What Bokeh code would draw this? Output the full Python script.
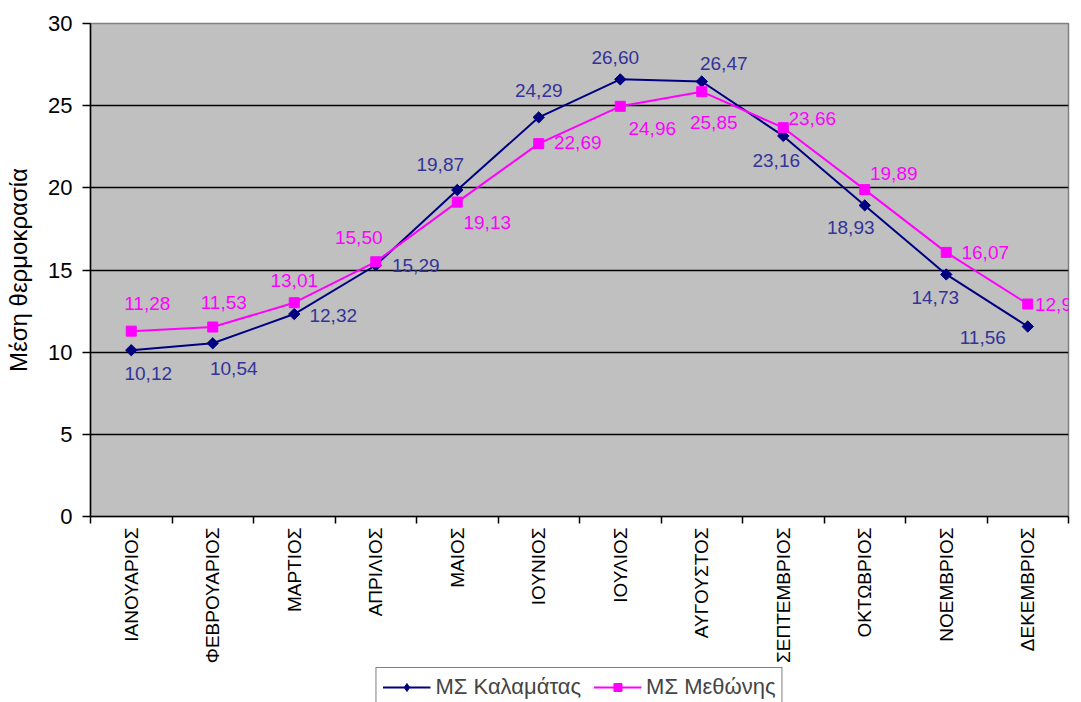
import numpy as np
from bokeh.plotting import figure
from bokeh.layouts import column
from bokeh.models import (ColumnDataSource, Range1d, FixedTicker, LabelSet, Legend, LegendItem)
from bokeh.core.properties import value
from bokeh.embed import file_html
from bokeh.resources import INLINE

months = ["ΙΑΝΟΥΑΡΙΟΣ", "ΦΕΒΡΟΥΑΡΙΟΣ", "ΜΑΡΤΙΟΣ", "ΑΠΡΙΛΙΟΣ", "ΜΑΙΟΣ", "ΙΟΥΝΙΟΣ",
          "ΙΟΥΛΙΟΣ", "ΑΥΓΟΥΣΤΟΣ", "ΣΕΠΤΕΜΒΡΙΟΣ", "ΟΚΤΩΒΡΙΟΣ", "ΝΟΕΜΒΡΙΟΣ", "ΔΕΚΕΜΒΡΙΟΣ"]
kalamata = [10.12, 10.54, 12.32, 15.29, 19.87, 24.29, 26.60, 26.47, 23.16, 18.93, 14.73, 11.56]
methoni = [11.28, 11.53, 13.01, 15.50, 19.13, 22.69, 24.96, 25.85, 23.66, 19.89, 16.07, 12.93]
y_ticks = [0, 5, 10, 15, 20, 25, 30]
series_names = ["ΜΣ Καλαμάτας", "ΜΣ Μεθώνης"]

# label nudges in screen pixels (dx right, dy up)
kal_dx = [17, 21, 39, 40, -17, 0, -5, 22, -7, -14, -11, -45]
kal_dy = [-23, -25, -1, 0, 25, 27, 22, 18, -25, -22, -23, -11]
met_dx = [16, 11, 0, -17, 30, 39, 32, 12, 29, 29, 39, 31]
met_dy = [28, 25, 22, 24, -20, 1, -22, -31, 9, 16, 0, 0]

FONT = "Liberation Sans"
NAVY = "#000080"
MAG = "#FF00FF"
xpos = np.arange(len(months)) + 0.5

def fmt(v):
    return f"{v:.2f}".replace(".", ",")

src_k = ColumnDataSource(dict(x=xpos, y=kalamata, t=[fmt(v) for v in kalamata], dx=kal_dx, dy=kal_dy))
src_m = ColumnDataSource(dict(x=xpos, y=methoni, t=[fmt(v) for v in methoni], dx=met_dx, dy=met_dy))

p = figure(width=1081, height=666, output_backend="svg", toolbar_location=None,
           x_range=Range1d(0, len(months)), y_range=Range1d(0, 30),
           min_border_left=90, min_border_right=13, min_border_top=23, min_border_bottom=150)

p.background_fill_color = "#C0C0C0"
p.border_fill_color = "white"
p.outline_line_color = "#808080"
p.outline_line_width = 1.5

# y axis
p.yaxis.ticker = FixedTicker(ticks=y_ticks)
p.yaxis.axis_line_color = "black"
p.yaxis.axis_line_width = 1.5
p.yaxis.major_tick_out = 8
p.yaxis.major_tick_in = 0
p.yaxis.major_tick_line_width = 1.5
p.yaxis.minor_tick_line_color = None
p.yaxis.major_label_text_font = FONT
p.yaxis.major_label_text_font_size = "22px"
p.yaxis.major_label_text_color = "black"
p.yaxis.major_label_standoff = 10
p.yaxis.axis_label = "Μέση θερμοκρασία"
p.yaxis.axis_label_text_font = FONT
p.yaxis.axis_label_text_font_size = "24px"
p.yaxis.axis_label_text_font_style = "normal"
p.yaxis.axis_label_text_color = "black"
p.yaxis.axis_label_standoff = 13

# x axis
p.xaxis.ticker = FixedTicker(ticks=list(xpos), minor_ticks=list(range(len(months) + 1)))
p.xaxis.major_label_overrides = {float(x): m for x, m in zip(xpos, months)}
p.xaxis.major_label_orientation = np.pi / 2
p.xaxis.axis_line_color = "black"
p.xaxis.axis_line_width = 1.5
p.xaxis.major_tick_out = 0
p.xaxis.major_tick_in = 0
p.xaxis.minor_tick_out = 7
p.xaxis.minor_tick_in = 0
p.xaxis.minor_tick_line_color = "black"
p.xaxis.minor_tick_line_width = 1.5
p.xaxis.major_label_text_font = FONT
p.xaxis.major_label_text_font_size = "19px"
p.xaxis.major_label_text_color = "black"
p.xaxis.major_label_standoff = 4

p.xgrid.grid_line_color = None
p.ygrid.ticker = FixedTicker(ticks=[5, 10, 15, 20, 25])
p.ygrid.grid_line_color = "black"
p.ygrid.grid_line_width = 1.5

def draw(fig, src, col, marker, size, angle):
    ln = fig.line("x", "y", source=src, line_color=col, line_width=2)
    sc = fig.scatter("x", "y", source=src, marker=marker, angle=angle, size=size,
                     fill_color=col, line_color=col)
    return ln, sc

draw(p, src_k, NAVY, "square", 8, np.pi / 4)
draw(p, src_m, MAG, "square", 10, 0)

for src, col in ((src_k, "#333399"), (src_m, MAG)):
    ls = LabelSet(x="x", y="y", text="t", source=src, x_offset="dx", y_offset="dy",
                  text_align="center", text_baseline="middle", text_color=col,
                  text_font=value(FONT), text_font_size=value("19px"))
    p.add_layout(ls)

# legend strip below the chart (same series, ranges set so only the legend shows)
pl = figure(width=1081, height=36, output_backend="svg", toolbar_location=None,
            x_range=Range1d(100, 101), y_range=Range1d(100, 101),
            x_axis_location=None, y_axis_location=None,
            min_border_left=0, min_border_right=0, min_border_top=0, min_border_bottom=0)
pl.outline_line_color = None
pl.grid.grid_line_color = None
rk = draw(pl, src_k, NAVY, "diamond", 14, 0)
rm = draw(pl, src_m, MAG, "square", 10, 0)

legend = Legend(items=[LegendItem(label=series_names[0], renderers=list(rk)),
                       LegendItem(label=series_names[1], renderers=list(rm))],
                orientation="horizontal", location="top_center",
                glyph_width=48, glyph_height=20, label_standoff=5, spacing=12,
                padding=6, margin=1, border_line_color="black", border_line_width=1.5,
                background_fill_color="white", background_fill_alpha=1,
                label_text_font=FONT, label_text_font_size="22px")
pl.add_layout(legend, "center")

layout = column(p, pl, spacing=0)
open("out.html", "w").write(file_html(layout, INLINE))
